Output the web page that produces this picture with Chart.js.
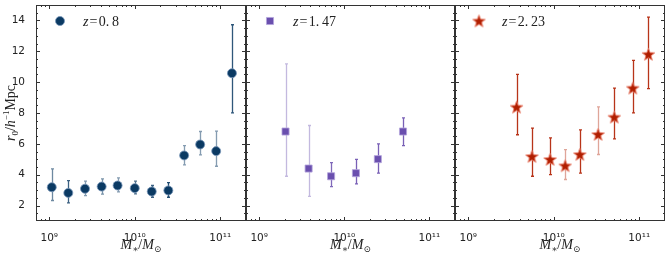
<!DOCTYPE html>
<html>
<head>
<meta charset="utf-8">
<script src="https://cdn.jsdelivr.net/npm/chart.js@4.4.1/dist/chart.umd.min.js"></script>
<style>
html, body { margin: 0; padding: 0; background: #fff; }
#wrap { position: relative; width: 669px; height: 254px; }
canvas { position: absolute; top: 0; }
</style>
</head>
<body>
<div id="wrap">
  <canvas id="panel1" width="248" height="254" style="left:0px"></canvas>
  <canvas id="panel2" width="213" height="254" style="left:244px"></canvas>
  <canvas id="panel3" width="216" height="254" style="left:453px"></canvas>
</div>
<script>
/***************************************************/
/********************** DATA ***********************/
/***************************************************/
// z = 0.8
var mass08 = [1.07e9, 1.67e9, 2.62e9, 4.1e9, 6.3e9, 1.0e10, 1.58e10, 2.47e10, 3.78e10, 5.82e10, 8.96e10, 1.37e11];
var r0_08  = [3.19, 2.82, 3.09, 3.23, 3.30, 3.13, 2.91, 2.98, 5.25, 5.96, 5.53, 10.58];
var hi08   = [4.38, 3.62, 3.58, 3.73, 3.80, 3.58, 3.30, 3.49, 5.89, 6.80, 6.82, 13.72];
var lo08   = [2.33, 2.18, 2.65, 2.74, 2.89, 2.76, 2.54, 2.54, 4.64, 5.29, 4.55, 8.01];

// z = 1.47
var mass147 = [2.04e9, 3.81e9, 7.0e9, 1.37e10, 2.48e10, 4.9e10];
var r0_147  = [6.80, 4.40, 3.90, 4.10, 5.01, 6.80];
var hi147   = [11.19, 7.19, 4.79, 4.99, 6.00, 7.69];
var lo147   = [3.90, 2.59, 3.23, 3.41, 4.10, 5.89];

// z = 2.23
var mass223 = [3.67e9, 5.56e9, 9.06e9, 1.36e10, 2.02e10, 3.3e10, 5.1e10, 8.4e10, 1.28e11];
var r0_223  = [8.38, 5.18, 4.99, 4.58, 5.31, 6.61, 7.73, 9.61, 11.80];
var hi223   = [10.50, 7.02, 6.39, 5.62, 6.91, 8.40, 9.61, 11.41, 14.21];
var lo223   = [6.59, 3.90, 4.01, 3.69, 4.10, 5.31, 6.32, 8.01, 9.58];

var redshiftLabels = ['0.8', '1.47', '2.23'];

// axis ticks
var xTickValues = [1e9, 1e10, 1e11];
var xTickLabels = ['10\u2079', '10\u00b9\u2070', '10\u00b9\u00b9'];
var yTickValues = [2, 4, 6, 8, 10, 12, 14];

// error bar opacity per point (styling only)
var errAlpha08  = [0.6, 0.8, 0.5, 0.55, 0.5, 0.7, 0.8, 0.9, 0.5, 0.5, 0.5, 0.85];
var errAlpha147 = [0.4, 0.4, 0.85, 0.9, 0.9, 0.9];
var errAlpha223 = [0.9, 0.9, 0.9, 0.4, 0.9, 0.4, 0.9, 0.9, 0.9];

/***************************************************/
/******************** HELPERS **********************/
/***************************************************/
var serif = '"Liberation Serif", "DejaVu Serif", serif';
var sans = '"DejaVu Sans", sans-serif';

function makeStar(fill, edge) {
    var c = document.createElement('canvas');
    c.width = 15; c.height = 15;
    var g = c.getContext('2d');
    g.beginPath();
    for (var i = 0; i < 10; i++) {
        var r = (i % 2 === 0) ? 6.6 : 2.8;
        var a = -Math.PI / 2 + i * Math.PI / 5;
        g.lineTo(7.5 + r * Math.cos(a), 8 + r * Math.sin(a));
    }
    g.closePath();
    g.fillStyle = fill;
    g.fill();
    g.lineWidth = 1;
    g.strokeStyle = edge;
    g.stroke();
    return c;
}

// draw a run of text pieces: [text, fontSize, italic, dy]
function drawPieces(ctx, pieces, x, y, align) {
    var total = 0;
    pieces.forEach(function (p) {
        ctx.font = (p[2] ? 'italic ' : '') + p[1] + 'px ' + serif;
        p.w = ctx.measureText(p[0]).width;
        total += p.w;
    });
    var cx = align === 'center' ? x - total / 2 : x;
    ctx.textAlign = 'left';
    ctx.textBaseline = 'alphabetic';
    pieces.forEach(function (p) {
        ctx.font = (p[2] ? 'italic ' : '') + p[1] + 'px ' + serif;
        ctx.fillText(p[0], cx, y + (p[3] || 0));
        cx += p.w;
    });
}

function noPadding(s) {
    s.paddingLeft = 0; s.paddingRight = 0;
    s.paddingTop = 0; s.paddingBottom = 0;
}

/***************************************************/
/******************** PLUGINS **********************/
/***************************************************/
const errorBars = {
    id: 'errorBars',
    beforeDatasetsDraw(chart, args, opts) {
        var ctx = chart.ctx;
        var xs = chart.scales.x, ys = chart.scales.y;
        ctx.save();
        ctx.lineWidth = 1.3;
        opts.mass.forEach(function (m, i) {
            var px = Math.round(xs.getPixelForValue(m)) + 0.5;
            var top = ys.getPixelForValue(opts.hi[i]);
            var bot = ys.getPixelForValue(opts.lo[i]);
            ctx.globalAlpha = opts.alpha[i];
            ctx.strokeStyle = opts.color;
            ctx.beginPath();
            ctx.moveTo(px, top); ctx.lineTo(px, bot);
            ctx.moveTo(px - 1.5, top); ctx.lineTo(px + 1.5, top);
            ctx.moveTo(px - 1.5, bot); ctx.lineTo(px + 1.5, bot);
            ctx.stroke();
        });
        ctx.restore();
    }
};

const frame = {
    id: 'frame',
    afterDraw(chart, args, opts) {
        var ctx = chart.ctx;
        var a = chart.chartArea;
        var xs = chart.scales.x, ys = chart.scales.y;
        ctx.save();
        ctx.strokeStyle = '#333';
        ctx.lineWidth = 1;
        ctx.strokeRect(Math.round(a.left) + 0.5, Math.round(a.top) + 0.5,
            Math.round(a.right - a.left) - 1, Math.round(a.bottom - a.top) - 1);

        ctx.beginPath();
        // x ticks, top and bottom
        for (var e = 8; e <= 11; e++) {
            for (var k = 1; k <= 9; k++) {
                var v = k * Math.pow(10, e);
                if (v <= xs.min || v >= xs.max) continue;
                var px = Math.round(xs.getPixelForValue(v)) + 0.5;
                var len = (k === 1) ? 4 : 2;
                ctx.moveTo(px, a.bottom); ctx.lineTo(px, a.bottom - len);
                ctx.moveTo(px, a.top); ctx.lineTo(px, a.top + len);
            }
        }
        // y ticks, left and right
        for (var y = 1.5; y < 15; y += 0.5) {
            var py = Math.round(ys.getPixelForValue(y)) + 0.5;
            var ylen = (y % 2 === 0) ? 4 : 2;
            ctx.moveTo(a.left, py); ctx.lineTo(a.left + ylen, py);
            ctx.moveTo(a.right, py); ctx.lineTo(a.right - ylen, py);
        }
        ctx.stroke();

        // legend
        var lx = a.left + 24, ly = a.top + 16;
        ctx.fillStyle = opts.color;
        ctx.strokeStyle = opts.edge;
        Chart.helpers.drawPoint(ctx, { pointStyle: opts.pointStyle, radius: opts.radius, rotation: 0, borderWidth: 1 }, lx, ly);
        ctx.fillStyle = '#222';
        drawPieces(ctx, [['z', 14, true], ['\u200a=\u200a', 14, false], [opts.label.replace('.', '.\u2009'), 14, false]], a.left + 47, ly + 5, 'left');

        // x title
        var cx = (a.left + a.right) / 2;
        drawPieces(ctx, [['M', 14, true], ['\u2217', 9, false, 3], ['/', 14, false], ['M', 14, true], ['\u2299', 9, false, 3]], cx, 249, 'center');

        // y title
        if (opts.yTitle) {
            ctx.translate(15, (a.top + a.bottom) / 2);
            ctx.rotate(-Math.PI / 2);
            drawPieces(ctx, [['r', 14, true], ['0', 9, false, 3], ['/', 14, false], ['h', 14, true], ['\u22121', 9, false, -6], ['Mpc', 14, false]], 0, 0, 'center');
        }
        ctx.restore();
    }
};

/***************************************************/
/****************** DRAW PANELS ********************/
/***************************************************/
function drawPanel(canvasId, cfg) {
    var canvas = document.getElementById(canvasId).getContext('2d');
    return new Chart(canvas, {
        type: 'scatter',
        data: {
            datasets: [{
                data: cfg.mass.map(function (m, i) { return { x: m, y: cfg.r0[i] }; }),
                pointStyle: cfg.pointStyle,
                pointRadius: cfg.radius,
                backgroundColor: cfg.color,
                borderColor: cfg.edge,
                borderWidth: 1,
                showLine: false
            }]
        },
        options: {
            responsive: false,
            animation: false,
            layout: { autoPadding: false, padding: { top: 5, left: cfg.padLeft, right: cfg.padRight, bottom: 0 } },
            scales: {
                x: {
                    type: 'logarithmic',
                    min: 7e8,
                    max: 2e11,
                    grid: { display: false },
                    border: { display: false },
                    afterBuildTicks: function (s) { s.ticks = xTickValues.map(function (v) { return { value: v }; }); },
                    afterFit: function (s) { s.height = 33; noPadding(s); },
                    ticks: {
                        autoSkip: false,
                        maxRotation: 0,
                        padding: 3,
                        color: '#222',
                        font: { family: sans, size: 10.5 },
                        callback: function (v) { return xTickLabels[xTickValues.indexOf(v)]; }
                    }
                },
                y: {
                    display: cfg.showY,
                    min: 1,
                    max: 15,
                    grid: { display: false },
                    border: { display: false },
                    afterBuildTicks: function (s) { s.ticks = yTickValues.map(function (v) { return { value: v }; }); },
                    afterFit: function (s) { s.width = cfg.showY ? 36 : 0; noPadding(s); },
                    ticks: {
                        padding: 3,
                        color: '#222',
                        font: { family: sans, size: 10.5 }
                    }
                }
            },
            plugins: {
                legend: { display: false },
                tooltip: { enabled: false },
                errorBars: { mass: cfg.mass, hi: cfg.hi, lo: cfg.lo, alpha: cfg.alpha, color: cfg.color },
                frame: { label: cfg.label, color: cfg.color, edge: cfg.edge, pointStyle: cfg.pointStyle, radius: cfg.radius, yTitle: cfg.showY }
            }
        },
        plugins: [errorBars, frame]
    });
}

var star = makeStar('#b01e00', 'rgba(235,130,110,0.9)');

drawPanel('panel1', {
    mass: mass08, r0: r0_08, hi: hi08, lo: lo08, alpha: errAlpha08, label: redshiftLabels[0],
    color: '#0b3a63', edge: 'rgba(120,150,185,0.8)', pointStyle: 'circle', radius: 4.5,
    showY: true, padLeft: 0, padRight: 2
});
drawPanel('panel2', {
    mass: mass147, r0: r0_147, hi: hi147, lo: lo147, alpha: errAlpha147, label: redshiftLabels[1],
    color: '#6a4fae', edge: 'rgba(180,165,220,0.8)', pointStyle: 'rect', radius: 5,
    showY: false, padLeft: 2, padRight: 2
});
drawPanel('panel3', {
    mass: mass223, r0: r0_223, hi: hi223, lo: lo223, alpha: errAlpha223, label: redshiftLabels[2],
    color: '#b01e00', edge: 'rgba(235,130,110,0.9)', pointStyle: star, radius: 6,
    showY: false, padLeft: 2, padRight: 4
});
</script>
</body>
</html>
